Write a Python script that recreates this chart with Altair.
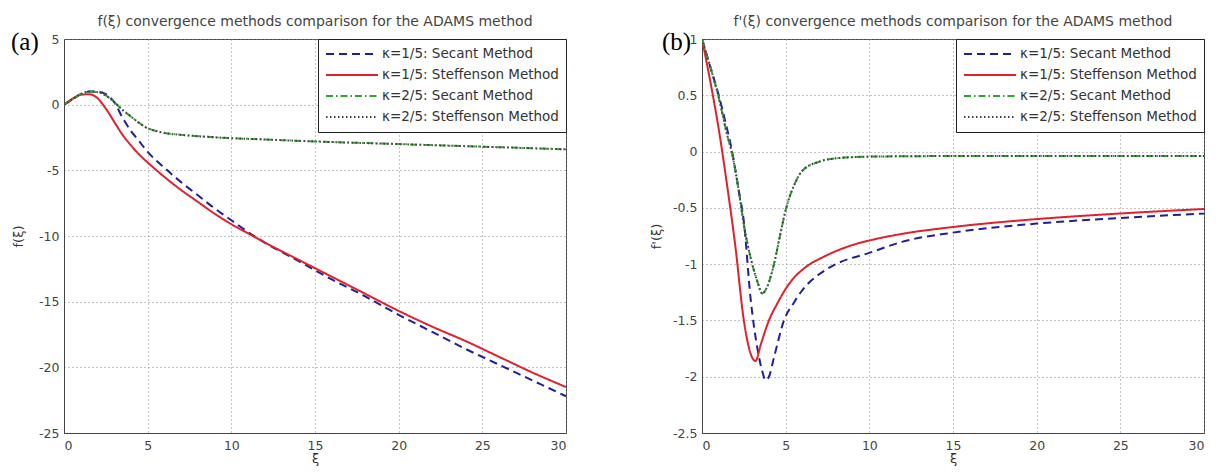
import altair as alt
import pandas as pd

# ---------------- labels ----------------
series_names = ["κ=1/5: Secant Method", "κ=1/5: Steffenson Method",
                "κ=2/5: Secant Method", "κ=2/5: Steffenson Method"]
series_colors = ["#1f1f99", "#e0202a", "#2fa52f", "#444444"]
series_dashes = [[8, 5], [1, 0], [7, 3, 1.5, 3], [1.5, 2.5]]
series_widths = [2.0, 2.0, 1.5, 1.0]

title_a = "f(ξ) convergence methods comparison for the ADAMS method"
title_b = "f'(ξ) convergence methods comparison for the ADAMS method"

# ---------------- panel (a): f(xi) ----------------
a_sec1_x = [0, 0.5, 1, 1.5, 2, 2.5, 3, 3.5, 4, 4.5, 5, 6, 7, 8, 9, 10, 11, 12, 14, 16, 18, 20, 22, 24, 26, 28, 30]
a_sec1_y = [0, 0.4, 0.8, 1.0, 1.0, 0.8, 0.2, -1.0, -2.0, -2.8, -3.6, -4.8, -5.9, -6.9, -7.9, -8.8, -9.7, -10.5,
            -11.9, -13.3, -14.6, -16.0, -17.3, -18.6, -19.8, -21.0, -22.2]
a_stf1_x = [0, 0.5, 1, 1.5, 2, 2.5, 3, 3.5, 4, 4.5, 5, 6, 7, 8, 9, 10, 11, 12, 14, 16, 18, 20, 22, 24, 26, 28, 30]
a_stf1_y = [0, 0.45, 0.75, 0.8, 0.5, -0.3, -1.3, -2.3, -3.1, -3.8, -4.4, -5.5, -6.5, -7.4, -8.3, -9.1, -9.8, -10.5,
            -11.8, -13.1, -14.4, -15.7, -16.9, -18.0, -19.2, -20.4, -21.5]
a_sec2_x = [0, 0.5, 1, 1.5, 2, 2.5, 3, 3.5, 4, 4.5, 5, 5.5, 6, 7, 8, 10, 12, 15, 20, 25, 30]
a_sec2_y = [0, 0.4, 0.8, 1.0, 0.95, 0.7, 0.2, -0.4, -0.9, -1.4, -1.8, -2.0, -2.15, -2.3, -2.4, -2.55, -2.65,
            -2.8, -3.0, -3.2, -3.4]
a_stf2_x = [0, 0.5, 1, 1.5, 2, 2.5, 3, 3.5, 4, 4.5, 5, 5.5, 6, 7, 8, 10, 12, 15, 20, 25, 30]
a_stf2_y = [0, 0.4, 0.8, 1.0, 0.95, 0.7, 0.2, -0.4, -0.9, -1.4, -1.8, -2.0, -2.15, -2.3, -2.4, -2.55, -2.65,
            -2.8, -3.0, -3.2, -3.4]

# ---------------- panel (b): f'(xi) ----------------
b_sec1_x = [0, 0.5, 1, 1.5, 1.8, 2.2, 2.5, 2.9, 3.3, 3.6, 3.8, 4.0, 4.3, 4.9, 5.5, 6, 6.5, 7, 8, 10, 12, 15, 20, 25, 30]
b_sec1_y = [1.0, 0.75, 0.5, 0.2, 0.0, -0.35, -0.62, -1.3, -1.74, -1.95, -2.03, -2.0, -1.83, -1.5, -1.34, -1.23,
            -1.15, -1.09, -1.0, -0.9, -0.8, -0.72, -0.64, -0.59, -0.55]
b_stf1_x = [0, 0.5, 1, 1.5, 2, 2.5, 3, 3.2, 3.5, 4, 4.5, 5, 5.5, 6, 6.5, 7, 8, 9, 10, 12, 15, 20, 25, 30]
b_stf1_y = [1.0, 0.62, 0.2, -0.3, -0.85, -1.5, -1.83, -1.86, -1.72, -1.5, -1.35, -1.22, -1.12, -1.05, -0.995,
            -0.955, -0.885, -0.83, -0.79, -0.73, -0.67, -0.6, -0.55, -0.51]
b_sec2_x = [0, 0.5, 1, 1.5, 1.8, 2.2, 2.5, 2.9, 3.3, 3.6, 3.9, 4.3, 4.7, 5, 5.5, 6, 7, 8, 10, 15, 20, 30]
b_sec2_y = [1.0, 0.75, 0.48, 0.15, -0.02, -0.35, -0.65, -0.94, -1.15, -1.26, -1.2, -1.0, -0.72, -0.52, -0.3,
            -0.17, -0.09, -0.06, -0.045, -0.04, -0.04, -0.04]
b_stf2_x = [0, 0.5, 1, 1.5, 1.8, 2.2, 2.5, 2.9, 3.3, 3.6, 3.9, 4.3, 4.7, 5, 5.5, 6, 7, 8, 10, 15, 20, 30]
b_stf2_y = [1.0, 0.75, 0.48, 0.15, -0.02, -0.35, -0.65, -0.94, -1.15, -1.26, -1.2, -1.0, -0.72, -0.52, -0.3,
            -0.17, -0.09, -0.06, -0.045, -0.04, -0.04, -0.04]


def long_frame(pairs):
    rows = []
    for name, (xs, ys) in zip(series_names, pairs):
        for i, (x, y) in enumerate(zip(xs, ys)):
            rows.append({"series": name, "xi": x, "val": y, "i": i})
    return pd.DataFrame(rows)


df_a = long_frame([(a_sec1_x, a_sec1_y), (a_stf1_x, a_stf1_y), (a_sec2_x, a_sec2_y), (a_stf2_x, a_stf2_y)])
df_b = long_frame([(b_sec1_x, b_sec1_y), (b_stf1_x, b_stf1_y), (b_sec2_x, b_sec2_y), (b_stf2_x, b_stf2_y)])

FONT = "DejaVu Sans"
W, H = 502, 394


def legend():
    return alt.Legend(title=None, orient="top-right", offset=0, strokeColor="#222",
                      fillColor="white", padding=7, symbolType="stroke", symbolSize=2704,
                      labelFont=FONT, labelFontSize=13.5, labelColor="#333", labelLimit=400,
                      rowPadding=5, clipHeight=16, labelOffset=3, symbolOffset=0)


def panel(df, ydom, yticks, ytitle, title, tag, tagx):
    lines = alt.Chart(df).mark_line(interpolate="monotone", clip=True).encode(
        x=alt.X("xi:Q", scale=alt.Scale(domain=[0, 30], nice=False),
                axis=alt.Axis(values=list(range(0, 31, 5)), title="ξ", titlePadding=1,
                              labelPadding=6)),
        y=alt.Y("val:Q", scale=alt.Scale(domain=ydom, nice=False),
                axis=alt.Axis(values=yticks, title=ytitle, labelExpr="'' + datum.value",
                              titleX=-46, titleY=H / 2, titleAngle=270, titleBaseline="middle",
                              labelPadding=5)),
        color=alt.Color("series:N", scale=alt.Scale(domain=series_names, range=series_colors),
                        legend=legend()),
        strokeDash=alt.StrokeDash("series:N", scale=alt.Scale(domain=series_names, range=series_dashes),
                                  legend=legend()),
        strokeWidth=alt.StrokeWidth("series:N", scale=alt.Scale(domain=series_names, range=series_widths),
                                    legend=legend()),
        order="i:Q",
    )
    ttl = alt.Chart(pd.DataFrame({"t": [title]})).mark_text(
        font=FONT, fontSize=14, color="#444", align="center", baseline="middle"
    ).encode(x=alt.value(W / 2), y=alt.value(-17), text="t:N")
    lab = alt.Chart(pd.DataFrame({"t": [tag]})).mark_text(
        font="Liberation Serif", fontSize=25, color="#000", align="left", baseline="middle"
    ).encode(x=alt.value(tagx), y=alt.value(3), text="t:N")
    return alt.layer(lines, ttl, lab).properties(width=W, height=H).resolve_scale(
        color="independent", strokeDash="independent", strokeWidth="independent")


pa = panel(df_a, [-25, 5], [5, 0, -5, -10, -15, -20, -25], "f(ξ)", title_a, "(a)", -53)
pb = panel(df_b, [-2.5, 1], [1, 0.5, 0, -0.5, -1, -1.5, -2, -2.5], "f'(ξ)", title_b, "(b)", -40)

chart = alt.hconcat(pa, pb, spacing=82).resolve_scale(
    color="independent", strokeDash="independent", strokeWidth="independent"
).resolve_legend(
    color="independent", strokeDash="independent", strokeWidth="independent"
).properties(
    padding={"left": 2, "top": 6, "right": 0, "bottom": 0}
).configure_view(
    stroke="#444", strokeWidth=1
).configure_axis(
    labelFont=FONT, labelFontSize=12.5, labelColor="#444", titleFont=FONT, titleFontSize=13,
    titleFontWeight="normal", titleColor="#333", ticks=False, domainColor="#444",
    gridColor="#888", gridDash=[1, 3], gridOpacity=1, gridWidth=1
).configure_concat(spacing=82)

chart.save("out.html", embed_options={"renderer": "svg", "actions": False})
